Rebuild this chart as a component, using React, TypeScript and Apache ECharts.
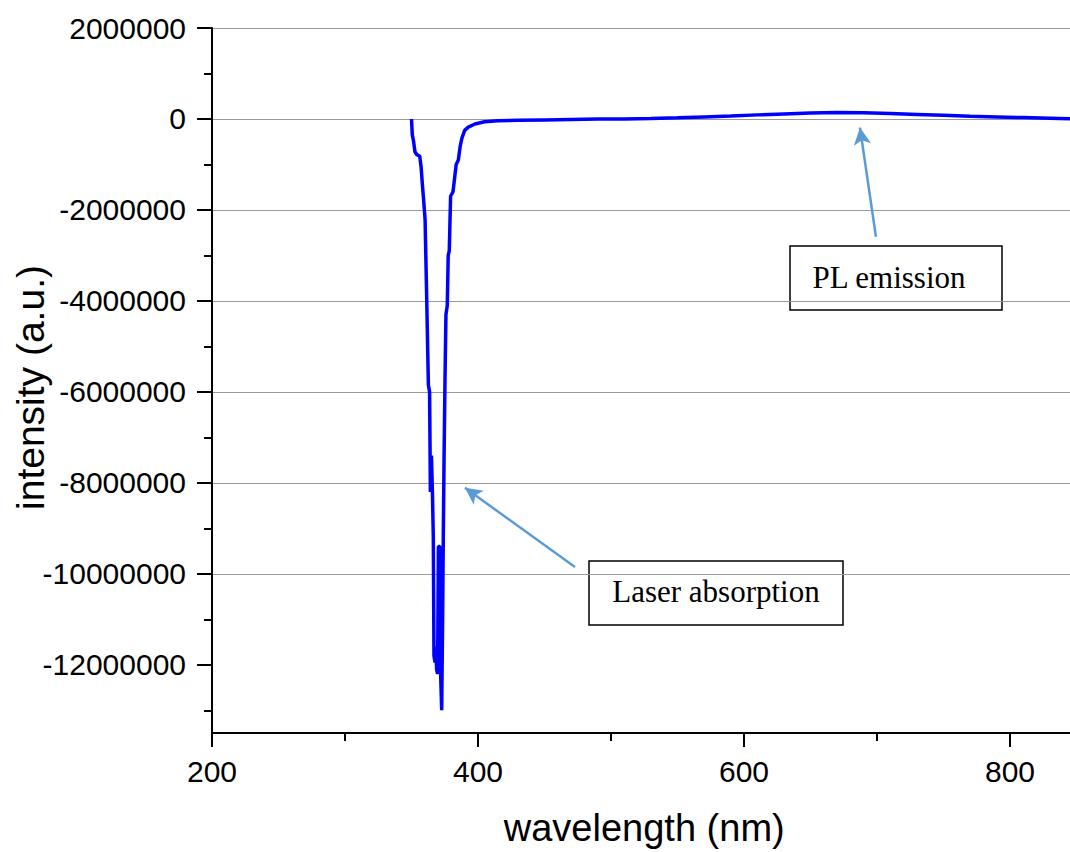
import React, { useEffect, useRef } from "react";
import * as echarts from "echarts";

// wavelength (nm)
const wavelengths = [
  350.0, 350.6, 351.6, 352.6, 353.9, 356.2, 357.2, 358.2, 358.9, 360.2,
  361.4, 362.7, 363.6, 364.2, 365.0, 365.8, 366.4, 366.9, 367.7, 368.3,
  368.9, 369.6, 370.2, 371.3, 372.0, 372.7, 373.4, 373.9, 374.5, 375.2,
  375.9, 376.9, 377.6, 378.4, 379.4, 381.2, 383.6, 385.2, 386.6, 387.9,
  390.0, 392.7, 397.7, 405, 415, 430, 450, 470, 490, 510,
  530, 550, 570, 590, 610, 630, 650, 670, 690, 710,
  730, 750, 770, 790, 810, 830, 850,
];
// intensity (a.u.)
const intensities = [
  0, -350000, -500000, -720000, -780000, -820000, -1050000, -1450000, -1700000, -2200000,
  -3900000, -5850000, -6000000, -8200000, -7400000, -8300000, -9200000, -11800000, -11950000, -11600000,
  -12100000, -12200000, -9400000, -9400000, -12300000, -13000000, -11000000, -9200000, -7400000, -5700000,
  -4300000, -4100000, -3000000, -2900000, -1700000, -1600000, -1000000, -900000, -600000, -420000,
  -250000, -180000, -110000, -60000, -40000, -30000, -20000, -10000, 0, 0,
  10000, 25000, 45000, 65000, 90000, 110000, 130000, 140000, 135000, 120000,
  100000, 80000, 60000, 45000, 30000, 15000, 0,
];

const yMajorTicks = [2000000, 0, -2000000, -4000000, -6000000, -8000000, -10000000, -12000000];
const yMinorTicks = [1000000, -1000000, -3000000, -5000000, -7000000, -9000000, -11000000, -13000000];
const xMajorTicks = [200, 400, 600, 800];
const xMinorTicks = [300, 500, 700];

// annotation arrows: [tail, head] in data coordinates
const plArrow = [[699.2, -2590000], [687.2, -190000]];
const laserArrow = [[472.9, -9850000], [390.2, -8110000]];
const plLabel = "PL emission";
const laserLabel = "Laser absorption";

export default function App() {
  const ref = useRef<HTMLDivElement>(null);

  useEffect(() => {
    if (!ref.current) return;
    const chart = echarts.init(ref.current, undefined, { renderer: "svg" });
    const sans = "Liberation Sans";
    const serif = "Liberation Serif";
    const arrowColor = "#5B9BD5";
    const plain = (v: number) => String(Math.round(v));

    const arrowItem = (a: number[][]) => [
      { coord: a[0], symbol: "none" },
      { coord: a[1], symbol: "arrow", symbolSize: [13, 17] },
    ];

    const box = (x: number, y: number, w: number, h: number, tx: number, ty: number, text: string) => ({
      type: "group",
      z: 100,
      children: [
        {
          type: "rect",
          shape: { x, y, width: w, height: h },
          style: { fill: "#ffffff", stroke: "#000000", lineWidth: 1.5 },
        },
        {
          type: "text",
          x: tx,
          y: ty,
          style: {
            text,
            font: `31px "${serif}"`,
            fill: "#000000",
            align: "center",
            verticalAlign: "middle",
          },
        },
      ],
    });

    chart.setOption({
      animation: false,
      backgroundColor: "#ffffff",
      grid: {
        left: 212,
        top: 28,
        right: -6.5,
        bottom: 119,
        containLabel: false,
        outerBoundsMode: "none",
      },
      xAxis: [
        {
          type: "value",
          min: 200,
          max: 850,
          position: "bottom",
          axisLine: { show: true, onZero: false, lineStyle: { color: "#000", width: 2 } },
          axisTick: { show: true, customValues: xMajorTicks, length: 14, lineStyle: { color: "#000", width: 2 } },
          axisLabel: {
            show: true,
            customValues: xMajorTicks,
            formatter: plain,
            fontSize: 30,
            fontFamily: sans,
            color: "#000",
            margin: 23,
          },
          splitLine: { show: false },
          name: "wavelength (nm)",
          nameLocation: "middle",
          nameGap: 76,
          nameMoveOverlap: false,
          nameTextStyle: { fontSize: 38, fontFamily: sans, color: "#000" },
        },
        {
          type: "value",
          min: 200,
          max: 850,
          position: "bottom",
          axisLine: { show: false, onZero: false },
          axisTick: { show: true, customValues: xMinorTicks, length: 8, lineStyle: { color: "#000", width: 2 } },
          axisLabel: { show: false },
          splitLine: { show: false },
        },
      ],
      yAxis: [
        {
          type: "value",
          min: -13500000,
          max: 2000000,
          splitNumber: 8,
          position: "left",
          axisLine: { show: true, onZero: false, lineStyle: { color: "#000", width: 2 } },
          axisTick: { show: true, customValues: yMajorTicks, length: 15, lineStyle: { color: "#000", width: 2 } },
          axisLabel: {
            show: true,
            customValues: yMajorTicks,
            formatter: plain,
            fontSize: 30,
            fontFamily: sans,
            color: "#000",
            margin: 26,
          },
          splitLine: { show: true, showMaxLine: false, lineStyle: { color: "#9a9a9a", width: 1.2 } },
          name: "intensity (a.u.)",
          nameLocation: "middle",
          nameGap: 162,
          nameMoveOverlap: false,
          nameTextStyle: { fontSize: 39, fontFamily: sans, color: "#000", padding: [0, 14, 0, 0] },
        },
        {
          type: "value",
          min: -13500000,
          max: 2000000,
          position: "left",
          axisLine: { show: false, onZero: false },
          axisTick: { show: true, customValues: yMinorTicks, length: 8, lineStyle: { color: "#000", width: 2 } },
          axisLabel: { show: false },
          splitLine: { show: false },
        },
      ],
      series: [
        {
          type: "line",
          xAxisIndex: 0,
          yAxisIndex: 0,
          data: wavelengths.map((w, i) => [w, intensities[i]]),
          showSymbol: false,
          symbol: "none",
          lineStyle: { color: "#0000ff", width: 3.5 },
          z: 5,
          markLine: {
            silent: true,
            animation: false,
            label: { show: false },
            lineStyle: { color: arrowColor, width: 2.5, type: "solid" },
            itemStyle: { color: arrowColor },
            data: [arrowItem(plArrow), arrowItem(laserArrow)],
          },
        },
      ],
      graphic: [
        box(790, 246, 212, 64, 889, 277, plLabel),
        box(589, 561, 254, 64, 716, 591, laserLabel),
      ],
    });

    return () => chart.dispose();
  }, []);

  return (
    <div
      ref={ref}
      style={{ position: "fixed", left: 0, top: 0, width: 1070, height: 852, background: "#fff" }}
    />
  );
}
